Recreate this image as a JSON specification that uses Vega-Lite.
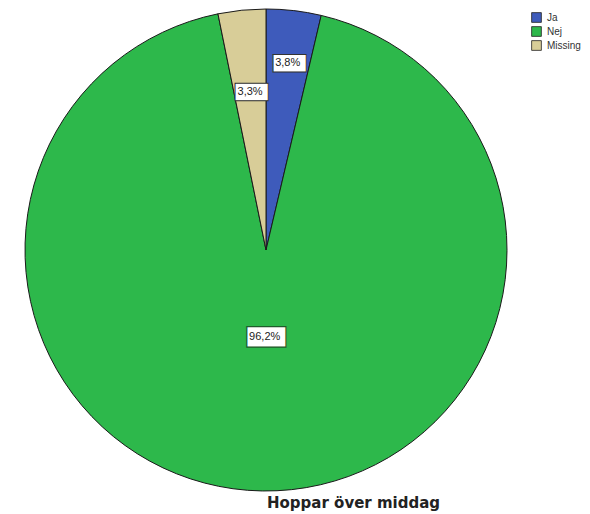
{
  "$schema": "https://vega.github.io/schema/vega-lite/v6.json",
  "autosize": "none",
  "width": 532,
  "height": 500,
  "padding": {"left": 0, "top": 0, "right": 58, "bottom": 14},
  "background": "white",
  "config": {"view": {"stroke": null}},
  "title": {
    "text": "Hoppar över middag",
    "orient": "bottom",
    "anchor": "start",
    "frame": "group",
    "dx": 267,
    "offset": -4,
    "font": "DejaVu Sans",
    "fontSize": 15,
    "fontWeight": "bold",
    "color": "#222222"
  },
  "data": {
    "values": [
      {"svar": "Ja", "andel": 3.8, "etikett": "3,8%"},
      {"svar": "Nej", "andel": 96.2, "etikett": "96,2%"},
      {"svar": "Missing", "andel": 3.3, "etikett": "3,3%"}
    ]
  },
  "encoding": {
    "theta": {
      "field": "andel",
      "type": "quantitative",
      "stack": true,
      "scale": {"range": [0.23113, 6.51432]}
    },
    "order": {"field": "svar", "sort": "descending"},
    "color": {
      "field": "svar",
      "type": "nominal",
      "sort": ["Ja", "Nej", "Missing"],
      "scale": {"domain": ["Ja", "Nej", "Missing"], "range": ["#3e5bbb", "#2db84b", "#d8cd98"]},
      "legend": {
        "title": null,
        "orient": "none",
        "legendX": 531,
        "legendY": 12,
        "symbolType": "square",
        "symbolSize": 95,
        "symbolStrokeColor": "#222222",
        "symbolStrokeWidth": 0.8,
        "symbolOpacity": 1,
        "labelFont": "Liberation Sans",
        "labelFontSize": 10,
        "labelColor": "#333333",
        "labelOffset": 5,
        "rowPadding": 1
      }
    }
  },
  "layer": [
    {
      "mark": {"type": "arc", "outerRadius": 241, "stroke": "#1a1a1a", "strokeWidth": 1}
    },
    {
      "mark": {"type": "text", "radius": 188, "angle": 90, "font": "DejaVu Sans Mono", "fontSize": 28, "align": "center", "baseline": "middle", "strokeWidth": 1},
      "encoding": {
        "text": {"condition": {"test": "datum.svar === 'Ja'", "value": "█"}, "value": ""},
        "fill": {"value": "white"},
        "stroke": {"value": "#333333"}
      }
    },
    {
      "mark": {"type": "text", "radius": 188, "font": "Liberation Sans", "fontSize": 11, "align": "center", "baseline": "middle"},
      "encoding": {
        "text": {"condition": {"test": "datum.svar === 'Ja'", "field": "etikett"}, "value": ""},
        "fill": {"value": "#222222"}
      }
    },
    {
      "mark": {"type": "text", "radius": 159, "angle": 90, "font": "DejaVu Sans Mono", "fontSize": 28, "align": "center", "baseline": "middle", "strokeWidth": 1},
      "encoding": {
        "text": {"condition": {"test": "datum.svar === 'Missing'", "value": "█"}, "value": ""},
        "fill": {"value": "white"},
        "stroke": {"value": "#333333"}
      }
    },
    {
      "mark": {"type": "text", "radius": 159, "font": "Liberation Sans", "fontSize": 11, "align": "center", "baseline": "middle"},
      "encoding": {
        "text": {"condition": {"test": "datum.svar === 'Missing'", "field": "etikett"}, "value": ""},
        "fill": {"value": "#222222"}
      }
    },
    {
      "mark": {"type": "text", "radius": 87, "angle": 90, "font": "DejaVu Sans Mono", "fontSize": 33, "align": "center", "baseline": "middle", "strokeWidth": 1.2},
      "encoding": {
        "text": {"condition": {"test": "datum.svar === 'Nej'", "value": "█"}, "value": ""},
        "fill": {"value": "white"},
        "stroke": {"value": "#1f5c2c"}
      }
    },
    {
      "mark": {"type": "text", "radius": 87, "font": "Liberation Sans", "fontSize": 11, "align": "center", "baseline": "middle"},
      "encoding": {
        "text": {"condition": {"test": "datum.svar === 'Nej'", "field": "etikett"}, "value": ""},
        "fill": {"value": "#222222"}
      }
    }
  ]
}
